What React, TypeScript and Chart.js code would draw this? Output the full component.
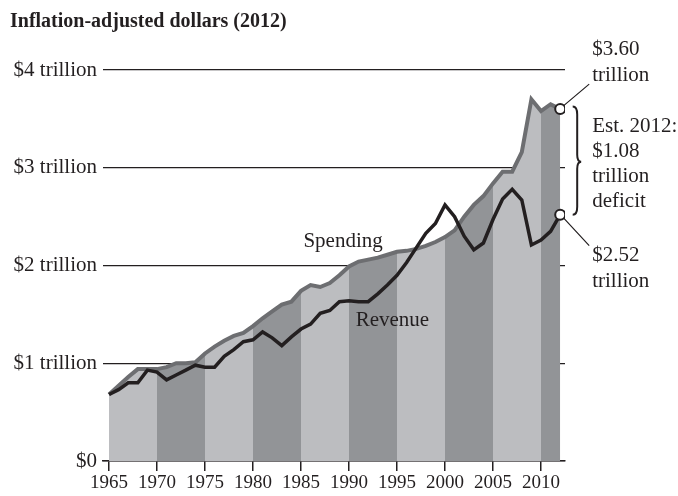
import React, { useEffect, useRef } from 'react';
import { Chart, registerables } from 'chart.js';

Chart.register(...registerables);

// ---- Data (trillions of 2012 dollars) ----
const years = [
  1965, 1966, 1967, 1968, 1969, 1970, 1971, 1972, 1973, 1974,
  1975, 1976, 1977, 1978, 1979, 1980, 1981, 1982, 1983, 1984,
  1985, 1986, 1987, 1988, 1989, 1990, 1991, 1992, 1993, 1994,
  1995, 1996, 1997, 1998, 1999, 2000, 2001, 2002, 2003, 2004,
  2005, 2006, 2007, 2008, 2009, 2010, 2011, 2012,
];
const spending = [
  0.68, 0.77, 0.86, 0.94, 0.94, 0.94, 0.96, 1.0, 1.0, 1.01,
  1.1, 1.17, 1.23, 1.28, 1.31, 1.38, 1.46, 1.53, 1.6, 1.63,
  1.74, 1.8, 1.78, 1.82, 1.9, 1.99, 2.04, 2.06, 2.08, 2.11,
  2.14, 2.15, 2.17, 2.2, 2.24, 2.29, 2.36, 2.5, 2.62, 2.71,
  2.84, 2.96, 2.96, 3.16, 3.7, 3.58, 3.65, 3.6,
];
const revenue = [
  0.68, 0.73, 0.8, 0.8, 0.93, 0.91, 0.83, 0.88, 0.93, 0.98,
  0.96, 0.96, 1.07, 1.14, 1.22, 1.24, 1.32, 1.26, 1.18, 1.27,
  1.35, 1.4, 1.51, 1.54, 1.63, 1.64, 1.63, 1.63, 1.71, 1.8,
  1.9, 2.03, 2.18, 2.33, 2.43, 2.62, 2.5, 2.3, 2.16, 2.23,
  2.47, 2.68, 2.78, 2.67, 2.21, 2.26, 2.35, 2.52,
];
const bandStartYears = [1965, 1970, 1975, 1980, 1985, 1990, 1995, 2000, 2005, 2010];
const xTickYears = [1965, 1970, 1975, 1980, 1985, 1990, 1995, 2000, 2005, 2010];
const yTickValues = [0, 1, 2, 3, 4];
const yTickLabels = ['$0', '$1 trillion', '$2 trillion', '$3 trillion', '$4 trillion'];
const titleText = 'Inflation-adjusted dollars (2012)';
const seriesNames = ['Spending', 'Revenue'];

// ---- Styles ----
const LIGHT = '#bcbdc0';
const DARK = '#929497';
const SPEND_LINE = '#6d6e71';
const INK = '#231f20';
const SERIF = '"Liberation Serif", "Times New Roman", serif';

// label anchors in data coordinates
const spendingLabelAt = { x: 1985.25, y: 2.19 };
const revenueLabelAt = { x: 1990.7, y: 1.385 };

const annotationPlugin = {
  id: 'annotations',
  afterDatasetsDraw(chart: any) {
    const { ctx, scales } = chart;
    const xs = scales.x;
    const ys = scales.y;
    const last = years.length - 1;
    const cx = xs.getPixelForValue(years[last]);
    const sy = ys.getPixelForValue(spending[last]);
    const ry = ys.getPixelForValue(revenue[last]);
    const tx = cx + 32;

    ctx.save();
    // Title
    ctx.fillStyle = INK;
    ctx.textAlign = 'left';
    ctx.textBaseline = 'alphabetic';
    ctx.font = `bold 20px ${SERIF}`;
    ctx.fillText(titleText, 10, 27);

    // Series labels
    ctx.font = `21px ${SERIF}`;
    ctx.fillText(seriesNames[0], xs.getPixelForValue(spendingLabelAt.x), ys.getPixelForValue(spendingLabelAt.y));
    ctx.fillText(seriesNames[1], xs.getPixelForValue(revenueLabelAt.x), ys.getPixelForValue(revenueLabelAt.y));

    // Leader lines
    ctx.strokeStyle = INK;
    ctx.lineWidth = 1.2;
    ctx.beginPath();
    ctx.moveTo(cx + 3.5, sy - 3.5);
    ctx.lineTo(cx + 29, sy - 25);
    ctx.moveTo(cx + 3.5, ry + 3.5);
    ctx.lineTo(cx + 29, ry + 31);
    ctx.stroke();

    // Brace
    const x0 = cx + 12.5;
    const w = 4.5;
    const top = sy - 2.5;
    const bot = ry;
    const mid = (top + bot) / 2 + 1;
    ctx.lineWidth = 2;
    ctx.beginPath();
    ctx.moveTo(x0, top);
    ctx.quadraticCurveTo(x0 + w, top, x0 + w, top + 8);
    ctx.lineTo(x0 + w, mid - 7);
    ctx.quadraticCurveTo(x0 + w, mid, x0 + w + 4, mid);
    ctx.quadraticCurveTo(x0 + w, mid, x0 + w, mid + 7);
    ctx.lineTo(x0 + w, bot - 8);
    ctx.quadraticCurveTo(x0 + w, bot, x0, bot);
    ctx.stroke();

    // Annotation texts
    ctx.font = `21px ${SERIF}`;
    ctx.fillStyle = INK;
    const deficit = spending[last] - revenue[last];
    ctx.fillText(`$${spending[last].toFixed(2)}`, tx, sy - 54);
    ctx.fillText('trillion', tx, sy - 28);
    ctx.fillText(`Est. ${years[last]}:`, tx, sy + 23);
    ctx.fillText(`$${deficit.toFixed(2)}`, tx, sy + 48);
    ctx.fillText('trillion', tx, sy + 73);
    ctx.fillText('deficit', tx, sy + 98);
    ctx.fillText(`$${revenue[last].toFixed(2)}`, tx, ry + 46);
    ctx.fillText('trillion', tx, ry + 72);
    ctx.restore();
  },
};

export default function App() {
  const ref = useRef<HTMLCanvasElement>(null);

  useEffect(() => {
    const canvas = ref.current;
    if (!canvas) return;
    const lastYear = years[years.length - 1];
    const lastIdx = years.length - 1;
    const toPts = (arr: number[]) => years.map((yr, i) => ({ x: yr, y: arr[i] }));

    const bandSets = bandStartYears.map((s, k) => {
      const e = Math.min(s + 5, lastYear);
      return {
        label: `band${s}`,
        data: toPts(spending).filter((p) => p.x >= s && p.x <= e),
        fill: 'origin',
        backgroundColor: k % 2 === 0 ? LIGHT : DARK,
        borderColor: 'rgba(0,0,0,0)',
        borderWidth: 0,
        pointRadius: 0,
        tension: 0,
        order: 3,
      };
    });

    const chart = new Chart(canvas, {
      type: 'line',
      data: {
        datasets: [
          {
            label: seriesNames[1],
            data: toPts(revenue),
            borderColor: INK,
            borderWidth: 3.5,
            fill: false,
            tension: 0,
            borderJoinStyle: 'miter',
            pointRadius: (c: any) => (c.dataIndex === lastIdx ? 5 : 0),
            pointBackgroundColor: '#ffffff',
            pointBorderColor: INK,
            pointBorderWidth: 2,
            order: 0,
          },
          {
            label: seriesNames[0],
            data: toPts(spending),
            borderColor: SPEND_LINE,
            borderWidth: 4,
            fill: false,
            tension: 0,
            borderJoinStyle: 'miter',
            pointRadius: (c: any) => (c.dataIndex === lastIdx ? 5 : 0),
            pointBackgroundColor: '#ffffff',
            pointBorderColor: INK,
            pointBorderWidth: 2,
            order: 1,
          },
          ...bandSets,
        ] as any,
      },
      options: {
        animation: false,
        responsive: true,
        maintainAspectRatio: false,
        layout: { padding: { top: 70, right: 113, left: 0, bottom: 0 } },
        plugins: {
          legend: { display: false },
          tooltip: { enabled: false },
          title: { display: false },
        },
        scales: {
          x: {
            type: 'linear',
            min: 1964.375,
            max: 2012.5,
            afterBuildTicks: (s: any) => {
              s.ticks = xTickYears.map((v) => ({ value: v }));
            },
            afterFit: (s: any) => {
              s.height = 35;
            },
            ticks: {
              autoSkip: false,
              maxRotation: 0,
              padding: 1,
              color: INK,
              font: { family: SERIF, size: 19 },
              callback: (v: any) => String(v),
            },
            grid: {
              drawOnChartArea: false,
              drawTicks: true,
              tickLength: 10,
              color: INK,
              lineWidth: 1.5,
            },
            border: { display: true, color: INK, width: 1.5 },
          },
          y: {
            type: 'linear',
            min: 0,
            max: 4,
            afterBuildTicks: (s: any) => {
              s.ticks = yTickValues.map((v) => ({ value: v }));
            },
            afterFit: (s: any) => {
              s.width = 103;
            },
            ticks: {
              padding: 6,
              color: INK,
              font: { family: SERIF, size: 21 },
              callback: (v: any) => yTickLabels[yTickValues.indexOf(Number(v))],
            },
            grid: { drawTicks: false, color: INK, lineWidth: 1.3 },
            border: { display: false },
          },
        },
      },
      plugins: [annotationPlugin],
    } as any);

    return () => chart.destroy();
  }, []);

  return (
    <div style={{ position: 'absolute', left: 0, top: 0, width: 678, height: 496, background: '#fff' }}>
      <canvas ref={ref} />
    </div>
  );
}
